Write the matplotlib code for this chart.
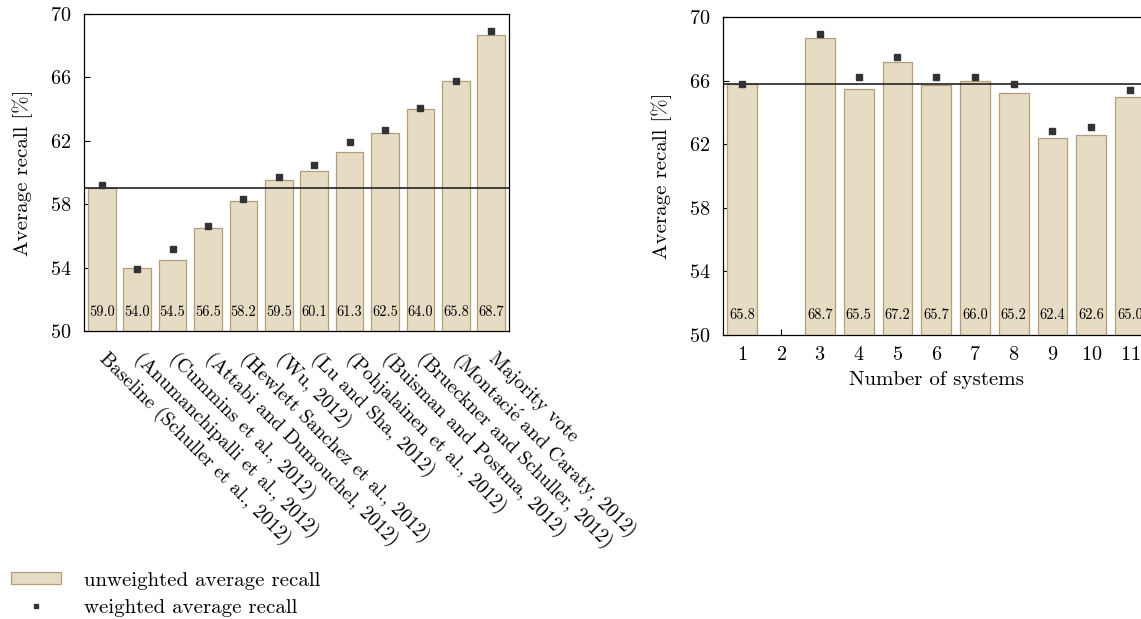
import numpy as np
import matplotlib
matplotlib.use("Agg")
import matplotlib.pyplot as plt
from matplotlib.patches import Patch
from matplotlib.lines import Line2D

plt.rcParams['font.family'] = ['cmr10', 'DejaVu Serif']
plt.rcParams['mathtext.fontset'] = 'cm'
plt.rcParams['axes.formatter.use_mathtext'] = True

# Left chart data
systems = ["Baseline (Schuller et al., 2012)", "(Anumanchipalli et al., 2012)",
           "(Cummins et al., 2012)", "(Attabi and Dumouchel, 2012)",
           "(Hewlett Sanchez et al., 2012)", "(Wu, 2012)", "(Lu and Sha, 2012)",
           "(Pohjalainen et al., 2012)", "(Buisman and Postma, 2012)",
           "(Brueckner and Schuller, 2012)", r"(Montaci$\acute{\mathrm{e}}$ and Caraty, 2012)",
           "Majority vote"]
uar_left = [59.0, 54.0, 54.5, 56.5, 58.2, 59.5, 60.1, 61.3, 62.5, 64.0, 65.8, 68.7]
war_left = [59.2, 53.9, 55.2, 56.6, 58.3, 59.7, 60.5, 61.9, 62.7, 64.1, 65.8, 68.9]
baseline_left = 59.0

# Right chart data
n_systems = [1, 2, 3, 4, 5, 6, 7, 8, 9, 10, 11]
uar_right = [65.8, np.nan, 68.7, 65.5, 67.2, 65.7, 66.0, 65.2, 62.4, 62.6, 65.0]
war_right = [65.8, np.nan, 68.9, 66.2, 67.5, 66.2, 66.2, 65.8, 62.8, 63.1, 65.4]
ref_right = 65.8

yticks = [50, 54, 58, 62, 66, 70]

bar_face = '#e6dcc4'
bar_edge = '#b39e78'
sq_color = '#333333'

W, H = 1141, 619
fig = plt.figure(figsize=(W / 100, H / 100), dpi=100)

axL = fig.add_axes([84 / W, 1 - 331 / H, 425 / W, 317 / H])
axR = fig.add_axes([723 / W, 1 - 335 / H, 426.4 / W, 318 / H])

def style(ax):
    ax.set_ylim(50, 70)
    ax.set_yticks(yticks)
    ax.tick_params(axis='both', direction='in', labelsize=14.5, length=4, width=0.8,
                   pad=9)
    ax.tick_params(axis='y', right=False)
    for s in ax.spines.values():
        s.set_linewidth(0.9)
    ax.set_ylabel('Average recall [%]', fontsize=15, labelpad=12)

# Left
xL = np.arange(len(systems))
axL.bar(xL, uar_left, width=0.78, bottom=0, color=bar_face, edgecolor=bar_edge,
        linewidth=0.9, zorder=2)
axL.axhline(baseline_left, color='#222222', linewidth=1.2, zorder=3)
axL.plot(xL, war_left, 's', color=sq_color, markersize=4.2, zorder=4)
for x, v in zip(xL, uar_left):
    axL.text(x, 51.2, f'{v:.1f}', ha='center', va='center', fontsize=10.3, zorder=5)
axL.set_xlim(-0.5, len(systems) - 0.5)
style(axL)
axL.set_xticks(xL)
axL.set_xticklabels(systems, rotation=-45, ha='left', va='center',
                    rotation_mode='anchor', fontsize=14.2)
axL.tick_params(axis='x', pad=18)

# Right
axR.bar(n_systems, uar_right, width=0.77, color=bar_face, edgecolor=bar_edge,
        linewidth=0.9, zorder=2)
axR.axhline(ref_right, color='#222222', linewidth=1.2, zorder=3)
axR.plot(n_systems, war_right, 's', color=sq_color, markersize=4.2, zorder=4)
for x, v in zip(n_systems, uar_right):
    if not np.isnan(v):
        axR.text(x, 51.25, f'{v:.1f}', ha='center', va='center', fontsize=10.3, zorder=5)
axR.set_xlim(0.5, 11.5)
style(axR)
axR.set_xticks(n_systems)
axR.tick_params(axis='x', pad=8)
axR.set_xlabel('Number of systems', fontsize=15, labelpad=5)

handles = [Patch(facecolor=bar_face, edgecolor=bar_edge, linewidth=0.9),
           Line2D([], [], marker='s', linestyle='none', color=sq_color, markersize=3.5)]
fig.legend(handles, ['unweighted average recall', 'weighted average recall'],
           loc='upper left', bbox_to_anchor=(-0.003, 0.1), frameon=False,
           fontsize=15, handlelength=2.4, handleheight=0.5, handletextpad=1.1,
           labelspacing=0.45, borderaxespad=0.3)

fig.savefig('out.png', dpi=100)
